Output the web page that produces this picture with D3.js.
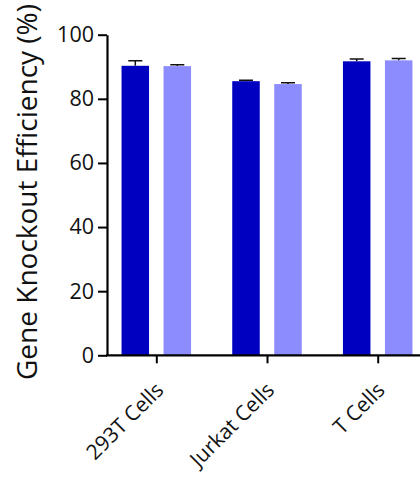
<!DOCTYPE html>
<html>
<head>
<meta charset="utf-8">
<script src="https://cdn.jsdelivr.net/npm/d3@7"></script>
<style>
  body { margin: 0; background: #fff; }
  svg { display: block; font-family: "Open Sans", "Noto Sans", sans-serif; }
</style>
</head>
<body>
<div id="chart"></div>
<script>
// Data //
const cellTypes = ["293T Cells", "Jurkat Cells", "T Cells"];
const seriesNames = ["Series A", "Series B"];
const seriesA = [90.3, 85.5, 91.7];
const seriesB = [90.2, 84.6, 92.0];
const errorA = [1.6, 0.3, 0.7];
const errorB = [0.4, 0.4, 0.6];
const yTicks = [0, 20, 40, 60, 80, 100];
const colors = ["#0000c0", "#8c8cff"];

const rows = cellTypes.map((c, i) => ({
    cell: c,
    values: [
        { key: seriesNames[0], value: seriesA[i], err: errorA[i] },
        { key: seriesNames[1], value: seriesB[i], err: errorB[i] }
    ]
}));

/* Canvas */
const W = 420, H = 477;
const axisX = 107;
const svg = d3.select("#chart").append("svg")
    .attr("width", W)
    .attr("height", H);

/* Scales */
const yScale = d3.scaleLinear()
    .domain([0, 100])
    .range([355.3, 34.7]);

const xScale = d3.scalePoint()
    .domain(cellTypes)
    .range([156.3, 377.7]);

const inner = d3.scaleBand()
    .domain(seriesNames)
    .range([-34.75, 34.75])
    .paddingInner(0.345);

const color = d3.scaleOrdinal().domain(seriesNames).range(colors);

/* Bars */
const groups = svg.selectAll(".group")
    .data(rows)
    .join("g")
    .attr("class", "group")
    .attr("transform", d => `translate(${xScale(d.cell)},0)`);

groups.selectAll("rect")
    .data(d => d.values)
    .join("rect")
    .attr("x", d => inner(d.key))
    .attr("y", d => yScale(d.value))
    .attr("width", inner.bandwidth())
    .attr("height", d => yScale(0) - yScale(d.value))
    .attr("fill", d => color(d.key));

// Error bars (upper only)
groups.selectAll(".err")
    .data(d => d.values)
    .join("path")
    .attr("class", "err")
    .attr("fill", "none")
    .attr("stroke", "#111")
    .attr("stroke-width", 1.5)
    .attr("d", d => {
        const cx = inner(d.key) + inner.bandwidth() / 2;
        const top = yScale(d.value + d.err);
        return `M${cx},${yScale(d.value)}V${top}M${cx - 7},${top}H${cx + 7}`;
    });

/* Y axis */
const yAxis = svg.append("g")
    .attr("transform", `translate(${axisX},0)`)
    .call(d3.axisLeft(yScale).tickValues(yTicks).tickSize(9).tickSizeOuter(0).tickPadding(4));
yAxis.select(".domain").attr("stroke", "#000").attr("stroke-width", 2.2);
yAxis.selectAll(".tick line").attr("stroke", "#000").attr("stroke-width", 2);
yAxis.selectAll(".tick text")
    .attr("font-family", "Open Sans")
    .attr("font-size", "21.5px")
    .attr("fill", "#111");

/* X axis */
svg.append("line")
    .attr("x1", axisX - 1).attr("x2", W)
    .attr("y1", yScale(0)).attr("y2", yScale(0))
    .attr("stroke", "#000")
    .attr("stroke-width", 2.2);

const xAxis = svg.append("g")
    .attr("transform", `translate(0,${yScale(0)})`)
    .call(d3.axisBottom(xScale).tickSize(8).tickSizeOuter(0));
xAxis.select(".domain").remove();
xAxis.selectAll(".tick line").attr("stroke", "#000").attr("stroke-width", 2);
xAxis.selectAll(".tick text")
    .attr("font-family", "Open Sans")
    .attr("font-size", "21px")
    .attr("fill", "#111")
    .attr("text-anchor", "end")
    .attr("dy", 0)
    .attr("y", 0)
    .attr("transform", "translate(8,36) rotate(-45)");

/* Y label */
svg.append("text")
    .attr("transform", "translate(37,192) rotate(-90)")
    .attr("text-anchor", "middle")
    .attr("font-family", "Open Sans")
    .attr("font-size", "28px")
    .attr("fill", "#111")
    .text("Gene Knockout Efficiency (%)");
</script>
</body>
</html>
